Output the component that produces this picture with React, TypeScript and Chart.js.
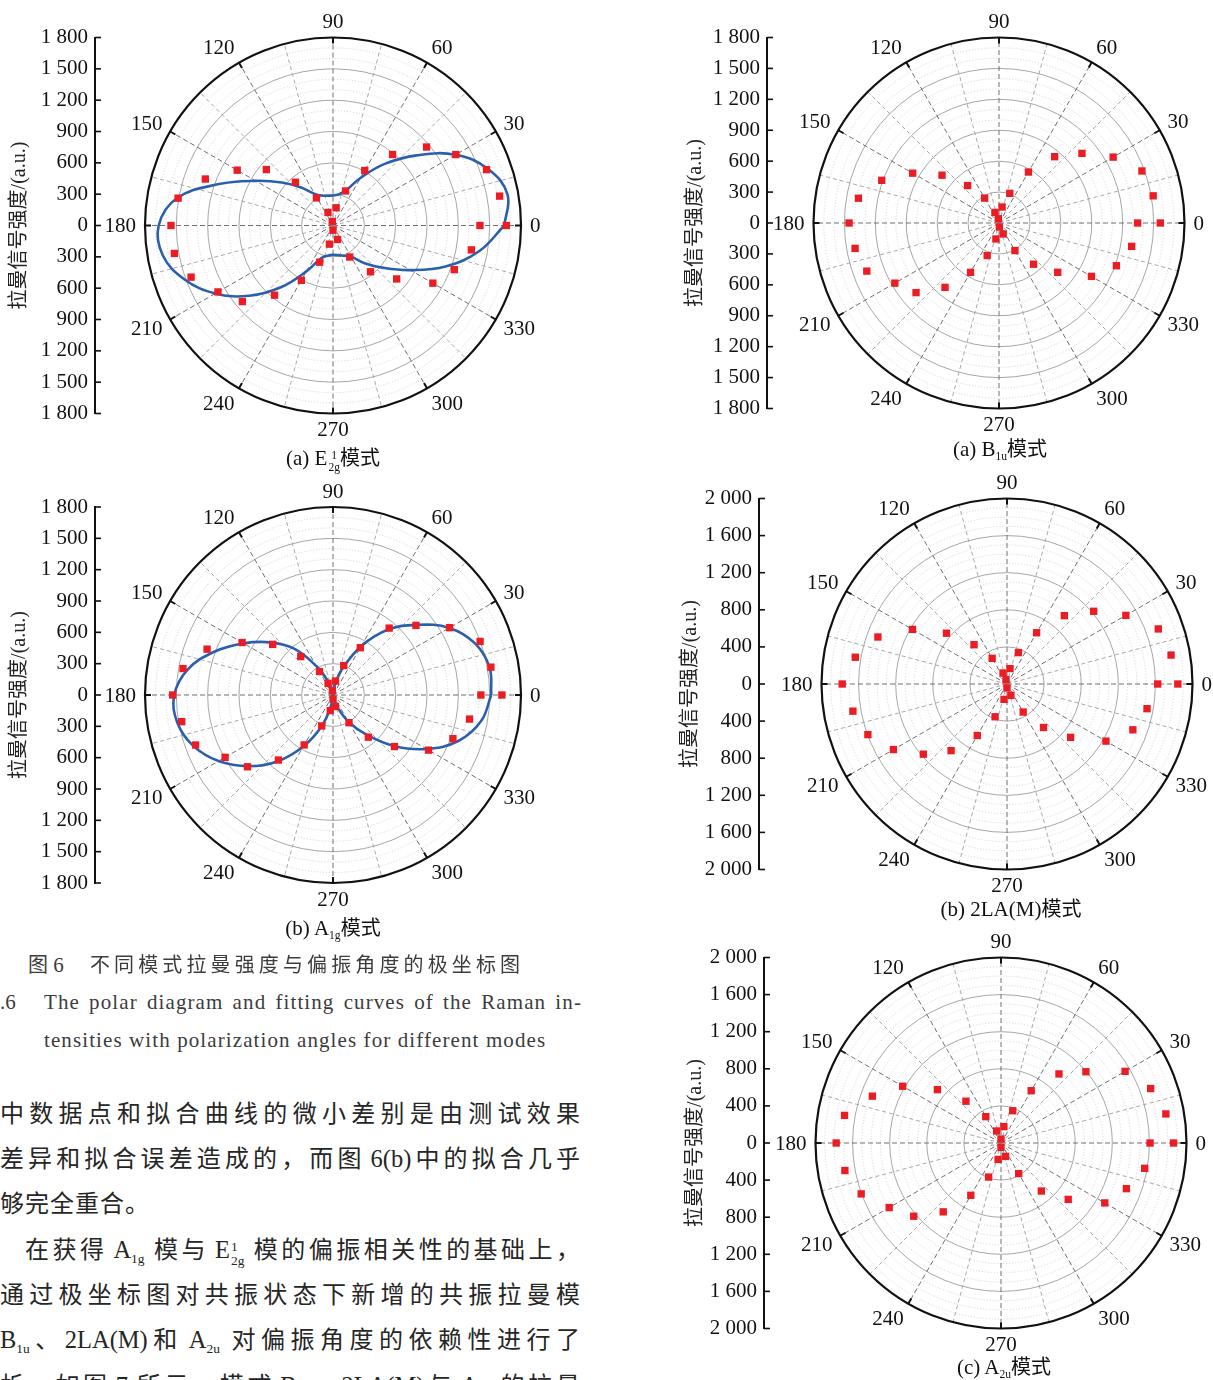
import React, { useEffect, useRef } from "react";
import { Chart, registerables } from "chart.js";

Chart.register(...registerables);

const SERIF = '"Liberation Serif","Times New Roman","Noto Sans CJK SC",serif';
const CJK = '"Noto Sans CJK SC","Noto Sans CJK JP",sans-serif';

const ANGLE_LABELS = [0, 30, 60, 90, 120, 150, 180, 210, 240, 270, 300, 330];
const TICKS_1800 = [-1800, -1500, -1200, -900, -600, -300, 0, 300, 600, 900, 1200, 1500, 1800];
const TICKS_2000 = [-2000, -1600, -1200, -800, -400, 0, 400, 800, 1200, 1600, 2000];
const Y_TITLE = "拉曼信号强度/(a.u.)";

const FIT_ANG = [0, 10, 20, 30, 40, 50, 60, 70, 80, 90, 100, 110, 120, 130, 140, 150, 160, 170, 180, 190, 200, 210, 220, 230, 240, 250, 260, 270, 280, 290, 300, 310, 320, 330, 340, 350, 360];

// (a) E2g mode – measured points
const E2G_ANG = [0, 10, 20, 30, 40, 50, 60, 70, 80, 100, 111, 121, 131, 140, 150, 160, 170, 180, 190, 200, 210, 220, 230, 240, 250, 259, 270, 288, 298, 309, 320, 330, 340, 350, 360];
const E2G_R = [1659, 1620, 1564, 1358, 1169, 887, 608, 352, 172, 39, 134, 308, 549, 833, 1059, 1301, 1506, 1551, 1542, 1446, 1272, 1133, 871, 606, 374, 182, 45, 141, 342, 570, 796, 1104, 1236, 1345, 1407];
// (a) E2g mode – fitted curve radius at FIT_ANG
const E2G_FIT_R = [1640, 1697, 1580, 1355, 1045, 770, 525, 355, 302, 288, 289, 305, 350, 475, 640, 855, 1160, 1515, 1669, 1654, 1512, 1301, 1046, 768, 505, 334, 293, 281, 288, 309, 344, 471, 631, 855, 1146, 1420, 1640];

// (b) A1g mode
const A1G_ANG = [0, 10, 20, 30, 40, 50, 60, 70, 80, 99, 113, 120, 130, 140, 150, 160, 170, 180, 190, 200, 210, 220, 230, 240, 250, 260, 270, 282, 300, 310, 320, 330, 340, 350, 360];
const A1G_R = [1617, 1535, 1499, 1289, 1037, 836, 523, 300, 136, 42, 121, 259, 480, 754, 1005, 1283, 1458, 1535, 1471, 1400, 1193, 1069, 813, 552, 315, 152, 38, 113, 306, 527, 768, 1056, 1222, 1327, 1416];
const A1G_FIT_R = [1515, 1522, 1447, 1285, 1045, 815, 540, 275, 100, 0, 30, 140, 320, 579, 784, 989, 1210, 1411, 1520, 1514, 1424, 1265, 1060, 830, 569, 318, 100, 0, 30, 125, 295, 493, 759, 1033, 1281, 1440, 1515];

// (a) B1u mode
const B1U_ANG = [0, 10, 20, 30, 40, 50, 60, 70, 79, 99, 111, 120, 130, 140, 150, 160, 170, 180, 190, 200, 210, 220, 230, 240, 250, 259, 275, 291, 300, 310, 320, 330, 340, 350, 360];
const B1U_R = [1565, 1519, 1476, 1279, 1051, 840, 571, 306, 158, 42, 110, 279, 474, 722, 967, 1211, 1385, 1455, 1418, 1365, 1167, 1051, 815, 553, 336, 158, 39, 114, 309, 522, 744, 1036, 1212, 1307, 1345];

// (b) 2LA(M) mode
const LA_ANG = [0, 10, 20, 30, 40, 50, 60, 70, 79, 103, 110, 120, 130, 140, 150, 160, 170, 180, 190, 200, 210, 220, 230, 240, 250, 259, 270, 289, 300, 310, 320, 330, 340, 350, 360];
const LA_R = [1842, 1796, 1736, 1480, 1220, 962, 638, 360, 169, 48, 126, 320, 553, 852, 1177, 1481, 1661, 1777, 1687, 1596, 1414, 1177, 938, 641, 376, 169, 43, 130, 349, 612, 895, 1232, 1444, 1533, 1625];

// (c) A2u mode
const A2U_ANG = [0, 10, 20, 30, 40, 50, 60, 70, 80, 90, 110, 120, 130, 140, 150, 160, 170, 180, 190, 200, 210, 220, 230, 240, 250, 260, 270, 289, 300, 310, 320, 330, 340, 350, 360];
const A2U_R = [1860, 1805, 1717, 1545, 1195, 972, 651, 370, 179, 43, 138, 328, 588, 895, 1224, 1476, 1713, 1777, 1709, 1604, 1392, 1228, 969, 651, 391, 180, 47, 153, 381, 676, 946, 1292, 1439, 1573, 1607];

type Spec = {
  left: number; top: number; width: number; height: number;
  axisX: number; cx: number; cy: number; R: number; titleX: number;
  rMax: number; major: number; minor: number; ticks: number[];
  ang: number[]; rad: number[]; fitAng?: number[]; fitRad?: number[];
};

const SPECS: Spec[] = [
  { left: 0, top: 0, width: 600, height: 470, axisX: 95, cx: 333, cy: 225.5, R: 188, titleX: 20, rMax: 1800, major: 300, minor: 100, ticks: TICKS_1800, ang: E2G_ANG, rad: E2G_R, fitAng: FIT_ANG, fitRad: E2G_FIT_R },
  { left: 0, top: 470, width: 600, height: 470, axisX: 95, cx: 333, cy: 695, R: 188, titleX: 20, rMax: 1800, major: 300, minor: 100, ticks: TICKS_1800, ang: A1G_ANG, rad: A1G_R, fitAng: FIT_ANG, fitRad: A1G_FIT_R },
  { left: 680, top: 0, width: 533, height: 465, axisX: 767, cx: 999, cy: 223, R: 185.5, titleX: 696, rMax: 1800, major: 300, minor: 100, ticks: TICKS_1800, ang: B1U_ANG, rad: B1U_R },
  { left: 672, top: 465, width: 541, height: 460, axisX: 759, cx: 1007, cy: 684, R: 185.5, titleX: 691, rMax: 2000, major: 400, minor: 100, ticks: TICKS_2000, ang: LA_ANG, rad: LA_R },
  { left: 680, top: 925, width: 533, height: 455, axisX: 764, cx: 1001, cy: 1143, R: 185.5, titleX: 696, rMax: 2000, major: 400, minor: 100, ticks: TICKS_2000, ang: A2U_ANG, rad: A2U_R },
];

const toXY = (a: number, r: number) => ({
  x: r * Math.cos((a * Math.PI) / 180),
  y: r * Math.sin((a * Math.PI) / 180),
});

const fmt = (v: number) => {
  const a = Math.abs(Math.round(v));
  return a >= 1000 ? `${Math.floor(a / 1000)} ${String(a % 1000).padStart(3, "0")}` : String(a);
};

function makeGridPlugin(s: Spec) {
  return {
    id: "polarGrid",
    beforeDatasetsDraw(chart: any) {
      const { ctx, chartArea } = chart;
      const xs = chart.scales.x;
      const ys = chart.scales.y;
      const cx = xs.getPixelForValue(0);
      const cy = ys.getPixelForValue(0);
      const R = cy - ys.getPixelForValue(s.rMax);
      ctx.save();
      // radial circles
      for (let v = s.minor; v < s.rMax - 1; v += s.minor) {
        const r = cy - ys.getPixelForValue(v);
        const isMajor = v % s.major === 0;
        ctx.beginPath();
        ctx.setLineDash(isMajor ? [] : [1, 2]);
        ctx.lineWidth = isMajor ? 0.9 : 0.8;
        ctx.strokeStyle = isMajor ? "#9c9c9c" : "#c8c8c8";
        ctx.arc(cx, cy, r, 0, Math.PI * 2);
        ctx.stroke();
      }
      // spokes
      for (let a = 0; a < 360; a += 15) {
        const major = a % 30 === 0;
        const rad = (a * Math.PI) / 180;
        ctx.beginPath();
        ctx.setLineDash(major ? [5, 3] : [4, 3]);
        ctx.lineWidth = 1;
        ctx.strokeStyle = major ? "#707070" : "#a8a8a8";
        ctx.moveTo(cx, cy);
        ctx.lineTo(cx + R * Math.cos(rad), cy - R * Math.sin(rad));
        ctx.stroke();
      }
      ctx.setLineDash([]);
      // outer circle
      ctx.beginPath();
      ctx.lineWidth = 2.2;
      ctx.strokeStyle = "#111";
      ctx.arc(cx, cy, R, 0, Math.PI * 2);
      ctx.stroke();
      // ticks + angle labels
      ctx.font = `21px ${SERIF}`;
      ctx.fillStyle = "#111";
      ctx.textAlign = "center";
      ctx.textBaseline = "middle";
      const g = 9;
      for (const a of ANGLE_LABELS) {
        const rad = (a * Math.PI) / 180;
        const c = Math.cos(rad), sn = Math.sin(rad);
        ctx.beginPath();
        ctx.lineWidth = 2;
        ctx.moveTo(cx + (R - 6) * c, cy - (R - 6) * sn);
        ctx.lineTo(cx + R * c, cy - R * sn);
        ctx.stroke();
        const txt = String(a);
        const w = ctx.measureText(txt).width;
        const px = cx + (R + g) * c;
        const py = cy - (R + g) * sn;
        const tx = Math.abs(c) < 0.1 ? px : c > 0 ? px + w / 2 : px - w / 2;
        let ty = py;
        if (sn > 0.6) ty = py - 7;
        else if (sn < -0.6) ty = py + 7;
        else if (sn > 0.1) ty = py - 4;
        else if (sn < -0.1) ty = py + 4;
        ctx.fillText(txt, tx, ty + 1);
      }
      // inward ticks on the intensity axis
      ctx.lineWidth = 1.6;
      ctx.strokeStyle = "#111";
      for (const t of s.ticks) {
        const y = ys.getPixelForValue(t);
        ctx.beginPath();
        ctx.moveTo(chartArea.left, y);
        ctx.lineTo(chartArea.left + 6, y);
        ctx.stroke();
      }
      ctx.restore();
    },
  };
}

function PolarChart({ s }: { s: Spec }) {
  const ref = useRef<HTMLCanvasElement>(null);
  useEffect(() => {
    const areaL = s.axisX - s.left;
    const areaR = s.cx + s.R - s.left;
    const areaT = s.cy - s.R - s.top;
    const areaB = s.cy + s.R - s.top;
    const xMin = s.rMax - ((areaR - areaL) / s.R) * s.rMax;
    const titleSize = 20;
    const titlePad = s.titleX - s.left - (titleSize * 1.2) / 2;
    const points = s.ang.map((a, i) => toXY(a, s.rad[i]));
    const datasets: any[] = [
      {
        data: points,
        showLine: false,
        pointStyle: "rect",
        pointRadius: 5.2,
        pointBorderWidth: 0,
        backgroundColor: "#ec1c24",
        borderColor: "#ec1c24",
        clip: false,
      },
    ];
    if (s.fitAng && s.fitRad) {
      const fr = s.fitRad;
      datasets.push({
        data: s.fitAng.map((a, i) => toXY(a, fr[i])),
        showLine: true,
        pointRadius: 0,
        borderColor: "#2b5fae",
        borderWidth: 2.6,
        tension: 0.4,
        fill: false,
        clip: false,
      });
    }
    const chart = new Chart(ref.current as HTMLCanvasElement, {
      type: "scatter",
      data: { datasets },
      options: {
        animation: false,
        responsive: false,
        maintainAspectRatio: false,
        events: [],
        layout: { padding: { left: 0, right: s.width - areaR, top: areaT, bottom: s.height - areaB } },
        plugins: { legend: { display: false }, tooltip: { enabled: false } },
        scales: {
          x: { type: "linear", display: false, min: xMin, max: s.rMax },
          y: {
            type: "linear",
            min: -s.rMax,
            max: s.rMax,
            afterFit: (scale: any) => {
              scale.width = areaL;
            },
            afterBuildTicks: (scale: any) => {
              scale.ticks = s.ticks.map((v) => ({ value: v }));
            },
            ticks: {
              autoSkip: false,
              padding: 7,
              color: "#111",
              font: { family: SERIF, size: 21 },
              callback: (v: any) => fmt(Number(v)),
            },
            grid: { display: false, drawTicks: false },
            border: { display: true, color: "#111", width: 2 },
            title: {
              display: true,
              text: Y_TITLE,
              color: "#222",
              font: { family: SERIF, size: titleSize },
              padding: { top: titlePad, bottom: 0 },
            },
          },
        },
      },
      plugins: [makeGridPlugin(s)],
    } as any);
    return () => chart.destroy();
  }, [s]);
  return (
    <canvas
      ref={ref}
      width={s.width}
      height={s.height}
      style={{ position: "absolute", left: s.left, top: s.top, width: s.width, height: s.height }}
    />
  );
}

const Sub = ({ t }: { t: string }) => (
  <span style={{ fontSize: "0.55em", verticalAlign: "-0.35em", lineHeight: 0 }}>{t}</span>
);
const SupSub = ({ sup, sub }: { sup: string; sub: string }) => (
  <span
    style={{
      display: "inline-block",
      fontSize: "0.55em",
      lineHeight: "1.05em",
      verticalAlign: "-0.55em",
      marginLeft: 1,
    }}
  >
    <span style={{ display: "block" }}>{sup}</span>
    <span style={{ display: "block" }}>{sub}</span>
  </span>
);
const Zh = ({ children, size }: { children: any; size?: number }) => (
  <span style={{ fontFamily: CJK, fontSize: size }}>{children}</span>
);

function Caption({ x, y, children }: { x: number; y: number; children: any }) {
  return (
    <div
      style={{
        position: "absolute",
        left: x - 150,
        width: 300,
        top: y - 14,
        lineHeight: "28px",
        textAlign: "center",
        fontFamily: SERIF,
        fontSize: 21,
        color: "#111",
        whiteSpace: "nowrap",
      }}
    >
      {children}
    </div>
  );
}

function TextLine({
  x, y, w, size, family, color, justify, spacing, children,
}: {
  x: number; y: number; w?: number; size: number; family: string; color: string; justify?: boolean; spacing?: number; children: any;
}) {
  return (
    <div
      style={{
        position: "absolute",
        left: x,
        top: y - Math.round(size * 0.65),
        width: w,
        fontFamily: family,
        fontSize: size,
        lineHeight: `${Math.round(size * 1.3)}px`,
        letterSpacing: spacing ? `${spacing}px` : undefined,
        color,
        textAlign: justify ? "justify" : "left",
        textAlignLast: justify ? "justify" : "left",
        whiteSpace: w ? "normal" : "nowrap",
      } as any}
    >
      {children}
    </div>
  );
}

const Lat = ({ children, ml = 0, mr = 0 }: { children: any; ml?: number; mr?: number }) => (
  <span style={{ fontFamily: SERIF, fontSize: "1.02em", marginLeft: ml, marginRight: mr }}>{children}</span>
);

export default function App() {
  const P = 24;
  const pc = "#262626";
  const cc = "#3c3c3c";
  return (
    <div
      style={{
        position: "absolute",
        left: 0,
        top: 0,
        width: 1213,
        height: 1380,
        overflow: "hidden",
        background: "#fff",
      }}
    >
      {SPECS.map((s, i) => (
        <PolarChart key={i} s={s} />
      ))}

      <Caption x={333} y={457}>
        (a) E<SupSub sup="1" sub="2g" />
        <Zh size={20}>模式</Zh>
      </Caption>
      <Caption x={333} y={927}>
        (b) A<Sub t="1g" />
        <Zh size={20}>模式</Zh>
      </Caption>
      <Caption x={1000} y={448}>
        (a) B<Sub t="1u" />
        <Zh size={20}>模式</Zh>
      </Caption>
      <Caption x={1011} y={908}>
        (b) 2LA(M)<Zh size={20}>模式</Zh>
      </Caption>
      <Caption x={1004} y={1366}>
        (c) A<Sub t="2u" />
        <Zh size={20}>模式</Zh>
      </Caption>

      <TextLine x={28} y={964} size={20} family={CJK} color={cc}>
        图<span style={{ fontFamily: SERIF, fontSize: 21 }}> 6</span>
      </TextLine>
      <TextLine x={90} y={964} w={430} size={20} family={CJK} color={cc} justify>
        不同模式拉曼强度与偏振角度的极坐标图
      </TextLine>
      <TextLine x={0} y={1003} size={21} family={SERIF} color={cc}>
        .6
      </TextLine>
      <TextLine x={44} y={1003} w={538} size={21} family={SERIF} color={cc} spacing={1.1} justify>
        The polar diagram and fitting curves of the Raman in-
      </TextLine>
      <TextLine x={44} y={1041} size={21} family={SERIF} color={cc} spacing={1.1}>
        tensities with polarization angles for different modes
      </TextLine>

      <TextLine x={0} y={1112} w={580} size={P} family={CJK} color={pc} justify>
        中数据点和拟合曲线的微小差别是由测试效果
      </TextLine>
      <TextLine x={0} y={1157} w={580} size={P} family={CJK} color={pc} justify>
        差异和拟合误差造成的，而图<Lat ml={5}>6(b)</Lat>中的拟合几乎
      </TextLine>
      <TextLine x={0} y={1202} size={P} family={CJK} color={pc} spacing={1}>
        够完全重合。
      </TextLine>
      <TextLine x={25} y={1248} w={555} size={P} family={CJK} color={pc} justify>
        在获得<Lat ml={6} mr={6}>A<Sub t="1g" /></Lat>模与<Lat ml={6} mr={6}>E<SupSub sup="1" sub="2g" /></Lat>模的偏振相关性的基础上，
      </TextLine>
      <TextLine x={0} y={1293} w={580} size={P} family={CJK} color={pc} justify>
        通过极坐标图对共振状态下新增的共振拉曼模
      </TextLine>
      <TextLine x={0} y={1338} w={580} size={P} family={CJK} color={pc} justify>
        <Lat>B<Sub t="1u" /></Lat>、<Lat>2LA(M)</Lat>和<Lat ml={6} mr={6}>A<Sub t="2u" /></Lat>对偏振角度的依赖性进行了
      </TextLine>
      <TextLine x={0} y={1384} w={580} size={P} family={CJK} color={pc} justify>
        析。如图<Lat ml={5} mr={5}>7</Lat>所示，模式<Lat ml={5}>B<Sub t="1u" /></Lat>、<Lat>2LA(M)</Lat>与<Lat ml={5} mr={5}>A<Sub t="2u" /></Lat>的拉曼
      </TextLine>
    </div>
  );
}
